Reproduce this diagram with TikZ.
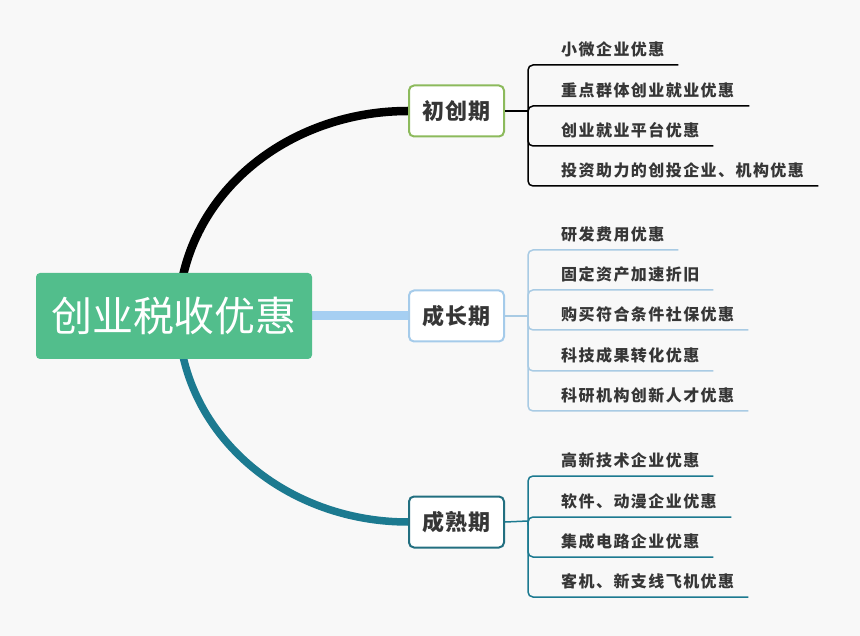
\documentclass[tikz,border=0pt]{standalone}
\usepackage{fontspec}
\setmainfont{Noto Sans CJK SC}
\pgfdeclarelayer{back}
\pgfdeclarelayer{bg}
\pgfsetlayers{back,bg,main}
\definecolor{bgc}{HTML}{F8F8F8}
\definecolor{rootg}{HTML}{52BE8C}
\definecolor{gborder}{HTML}{8CBA5C}
\definecolor{lblue}{HTML}{A6CFF2}
\definecolor{lbborder}{HTML}{A5CBEA}
\definecolor{lbline}{HTML}{A9CBE4}
\definecolor{teal}{HTML}{1C7A90}
\definecolor{tborder}{HTML}{226F80}
\definecolor{txt}{HTML}{363636}
\tikzset{
  rootbox/.style={rectangle, rounded corners=4pt, fill=rootg, text=white,
    minimum width=276pt, minimum height=86pt, inner sep=0pt,
    font=\fontsize{41}{44}\selectfont},
  stagebox/.style={rectangle, rounded corners=5pt, fill=white, line width=2pt,
    minimum width=95pt, minimum height=51pt, inner sep=0pt, text=txt,
    font=\bfseries\fontsize{22}{24}\selectfont\addfontfeature{LetterSpace=5}},
  leaf/.style={anchor=south west, inner xsep=0pt, inner ysep=8pt, text=txt, align=left,
    font=\bfseries\fontsize{16}{18}\selectfont\addfontfeature{LetterSpace=9}},
  brk/.style={line width=1.5pt, rounded corners=5pt},
}
\begin{document}
\begin{tikzpicture}[x=1pt,y=-1pt]
\begin{pgfonlayer}{back}
\fill[bgc] (0,0) rectangle (860,636);
\end{pgfonlayer}
\useasboundingbox (0,0) rectangle (860,636);
% nodes
\node[rootbox] (root) at (174,316) {创业税收优惠};
\node[stagebox, draw=gborder] (b1) at (456.5,111) {初创期};
\node[stagebox, draw=lbborder] (b2) at (456.5,316) {成长期};
\node[stagebox, draw=tborder] (b3) at (456.5,522) {成熟期};
\coordinate (j1) at (528,111);
\coordinate (j2) at (528,316);
\coordinate (j3) at (528,521);
% leaves group 1
\node[leaf, text width=117pt] (c11) at (561,65) {\mbox{小微企业优惠}};
\node[leaf, text width=188pt] (c12) at (561,106) {\mbox{重点群体创业就业优惠}};
\node[leaf, text width=152pt] (c13) at (561,146) {\mbox{创业就业平台优惠}};
\node[leaf, text width=257pt] (c14) at (561,186) {\mbox{投资助力的创投企业、机构优惠}};
% leaves group 2
\node[leaf, text width=117pt] (c21) at (561,250) {\mbox{研发费用优惠}};
\node[leaf, text width=152pt] (c22) at (561,290) {\mbox{固定资产加速折旧}};
\node[leaf, text width=187pt] (c23) at (561,330) {\mbox{购买符合条件社保优惠}};
\node[leaf, text width=152pt] (c24) at (561,371) {\mbox{科技成果转化优惠}};
\node[leaf, text width=187pt] (c25) at (561,411) {\mbox{科研机构创新人才优惠}};
% leaves group 3
\node[leaf, text width=152pt] (c31) at (561,476) {\mbox{高新技术企业优惠}};
\node[leaf, text width=170pt] (c32) at (561,517) {\mbox{软件、动漫企业优惠}};
\node[leaf, text width=152pt] (c33) at (561,557) {\mbox{集成电路企业优惠}};
\node[leaf, text width=187pt] (c34) at (561,597) {\mbox{客机、新支线飞机优惠}};
% main branches
\begin{pgfonlayer}{bg}
\draw[line width=8.5pt, black] ([xshift=9pt,yshift=-3pt]root.north) .. controls (205,178) and (300,111) .. (b1.west);
\draw[line width=9pt, lblue] (root.east) -- (b2.west);
\draw[line width=7.5pt, teal] ([xshift=9pt,yshift=3pt]root.south) .. controls (205,454) and (300,522) .. (b3.west);
\end{pgfonlayer}
% brackets
\draw[brk, black] (b1.east) -- (j1);
\foreach \c in {c11,c12,c13,c14} \draw[brk, black] (j1) |- (\c.south east);
\draw[brk, lbline] (b2.east) -- (j2);
\foreach \c in {c21,c22,c23,c24,c25} \draw[brk, lbline] (j2) |- (\c.south east);
\draw[brk, teal] (b3.east) -- (j3);
\foreach \c in {c31,c32,c33,c34} \draw[brk, teal] (j3) |- (\c.south east);
\end{tikzpicture}
\end{document}
